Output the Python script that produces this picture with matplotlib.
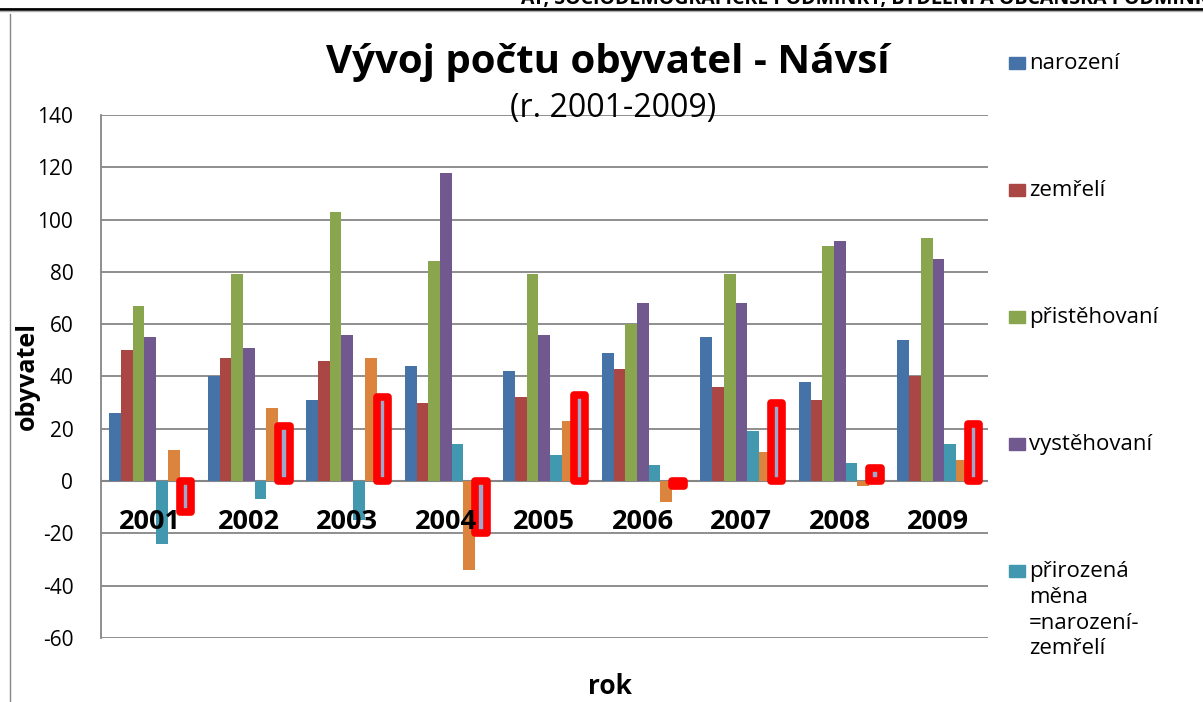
import numpy as np
import matplotlib.pyplot as plt
from matplotlib.patches import Rectangle
from matplotlib.lines import Line2D

# data
roky = ['2001', '2002', '2003', '2004', '2005', '2006', '2007', '2008', '2009']
narozeni = [26, 40, 31, 44, 42, 49, 55, 38, 54]
zemreli = [50, 47, 46, 30, 32, 43, 36, 31, 40]
pristehovani = [67, 79, 103, 84, 79, 60, 79, 90, 93]
vystehovani = [55, 51, 56, 118, 56, 68, 68, 92, 85]
prirozena_mena = [-24, -7, -15, 14, 10, 6, 19, 7, 14]
migracni_saldo = [12, 28, 47, -34, 23, -8, 11, -2, 8]
celkovy_prirustek = [-12, 21, 32, -20, 33, -2, 30, 5, 22]

nazvy = ['narození', 'zemřelí', 'přistěhovaní', 'vystěhovaní',
         'přirozená\nměna\n=narození-\nzemřelí']
barvy = ['#4572A7', '#AA4643', '#89A54E', '#71588F', '#4198AF', '#DB843D']

plt.rcParams['font.family'] = ['Open Sans', 'DejaVu Sans']
plt.rcParams['axes.unicode_minus'] = False

fig = plt.figure(figsize=(12.03, 7.02), dpi=100)
ax = fig.add_axes([0.084, 0.0912, 0.737, 0.745])

x = np.arange(len(roky))
w = 0.119
serie = [narozeni, zemreli, pristehovani, vystehovani, prirozena_mena, migracni_saldo]
for i, (hodnoty, barva) in enumerate(zip(serie, barvy)):
    ax.bar(x + (i - 3) * w, hodnoty, width=w, color=barva, zorder=3)

# celkovy prirustek - zvyrazneny cervene
ax.bar(x + 3 * w, celkovy_prirustek, width=w, color='#9DA8CF', edgecolor='#FF0000',
       linewidth=5.5, joinstyle='round', zorder=4)

ax.set_xlim(-0.5, len(roky) - 0.5)
ax.set_ylim(-60, 140)
ax.set_yticks(np.arange(-60, 141, 20))
ax.tick_params(axis='y', labelsize=15, length=0, pad=20)
ax.set_xticks([])
ax.grid(True, axis='y', color='#868686', linewidth=1.3, zorder=0)
ax.axhline(0, color='#868686', linewidth=1.5, zorder=2)
for s in ['top', 'right', 'bottom']:
    ax.spines[s].set_visible(False)
ax.spines['left'].set_color('#868686')
ax.spines['left'].set_linewidth(1.3)

for xi, rok in zip(x, roky):
    ax.text(xi, -15.5, rok, ha='center', va='center', fontsize=19.5, fontweight='bold', zorder=5)

ax.set_ylabel('obyvatel', fontsize=18, fontweight='bold')
ax.yaxis.set_label_coords(-0.069, 0.5)
fig.text(610 / 1203, 1 - 686 / 702, 'rok', ha='center', va='center', fontsize=19, fontweight='bold')

fig.text(608 / 1203, 1 - 62 / 702, 'Vývoj počtu obyvatel - Návsí', ha='center', va='center',
         fontsize=29, fontweight='bold')
fig.text(613 / 1203, 1 - 108 / 702, '(r. 2001-2009)', ha='center', va='center', fontsize=23, zorder=10)

# legenda
for i, (nazev, barva) in enumerate(zip(nazvy, barvy)):
    yc = 63 + i * 127
    fig.patches.append(Rectangle((1009 / 1203, 1 - (yc + 6) / 702), 16 / 1203, 12 / 702,
                                 transform=fig.transFigure, color=barva))
    fig.text(1029 / 1203, 1 - (yc - 10) / 702, nazev, ha='left', va='top', fontsize=16,
             linespacing=1.3)

# zahlavi stranky a ramecek grafu
fig.text(870 / 1203, 1 + 2 / 702, 'ÁY, SOCIODEMOGRAFICKÉ PODMÍNKY, BYDLENÍ A OBČANSKÁ PODMÍNKY',
         ha='center', va='center', fontsize=14, fontweight='bold')
fig.lines.append(Line2D([0, 1], [1 - 9 / 702, 1 - 9 / 702], transform=fig.transFigure,
                        color='black', linewidth=2))
fig.lines.append(Line2D([0, 1], [1 - 11 / 702, 1 - 11 / 702], transform=fig.transFigure,
                        color='#b0b0b0', linewidth=1))
fig.lines.append(Line2D([10 / 1203, 10 / 1203], [0, 1 - 14 / 702], transform=fig.transFigure,
                        color='#868686', linewidth=1))

plt.savefig('out.png', dpi=100)
